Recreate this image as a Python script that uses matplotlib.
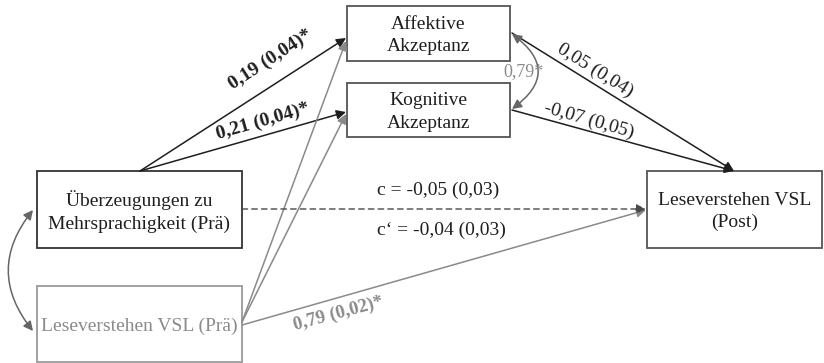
import matplotlib
matplotlib.use("Agg")
import matplotlib.pyplot as plt
from matplotlib.patches import Rectangle, FancyArrowPatch

# --- model content -------------------------------------------------------
node_labels = [
    "Überzeugungen zu\nMehrsprachigkeit (Prä)",
    "Leseverstehen VSL (Prä)",
    "Affektive\nAkzeptanz",
    "Kognitive\nAkzeptanz",
    "Leseverstehen VSL\n(Post)",
]

# a-paths: predictor -> mediators (affektiv, kognitiv)
a_coef = [0.19, 0.21]
a_se = [0.04, 0.04]
a_sig = [True, True]

# b-paths: mediators -> outcome
b_coef = [0.05, -0.07]
b_se = [0.04, 0.05]
b_sig = [False, False]

# total and direct effect
c_total = (-0.05, 0.03)
c_direct = (-0.04, 0.03)

# covariate (Leseverstehen Prä) -> outcome
cov_coef, cov_se, cov_sig = 0.79, 0.02, True

# residual correlation of the mediators
med_corr, med_corr_sig = 0.79, True


def fmt(v):
    return f"{v:.2f}".replace(".", ",")


def path_label(coef, se, sig):
    return f"{fmt(coef)} ({fmt(se)})" + ("*" if sig else "")


# --- layout --------------------------------------------------------------
W, H = 824, 363
boxes = {
    0: (37, 171, 242, 248),
    1: (37, 286, 242, 362),
    2: (347, 6, 510, 61),
    3: (347, 83, 510, 137),
    4: (647, 171, 822, 248),
}
DARK = "#1e1e1e"
GRAY = "#8a8a8a"
MID = "#4a4a4a"
CURVE = "#666666"
FONT = "Liberation Serif"

fig = plt.figure(figsize=(W / 100, H / 100), dpi=100)
ax = fig.add_axes([0, 0, 1, 1])
ax.set_xlim(0, W)
ax.set_ylim(H, 0)
ax.axis("off")

box_edge = {0: "#333333", 1: "#9a9a9a", 2: "#555555", 3: "#555555", 4: "#555555"}
text_col = {0: DARK, 1: GRAY, 2: DARK, 3: DARK, 4: DARK}
for i, (x0, y0, x1, y1) in boxes.items():
    ax.add_patch(Rectangle((x0, y0), x1 - x0, y1 - y0, fill=False,
                           edgecolor=box_edge[i], linewidth=1.3))
    ax.text((x0 + x1) / 2, (y0 + y1) / 2 + 2, node_labels[i], ha="center",
            va="center", fontsize=14, family=FONT, color=text_col[i],
            linespacing=1.4)


def arrow(p0, p1, color, ls="-", lw=1.1, rad=0.0, both=False):
    st = "<|-|>" if both else "-|>"
    a = FancyArrowPatch(p0, p1, arrowstyle=st, mutation_scale=14,
                        color=color, linewidth=lw, linestyle=ls,
                        shrinkA=0, shrinkB=0,
                        connectionstyle=f"arc3,rad={rad}")
    ax.add_patch(a)


# predictor -> mediators
arrow((140, 171), (346, 38), DARK)
arrow((140, 171), (346, 112), DARK)
# covariate -> mediators and outcome
arrow((242, 322), (346, 41), GRAY)
arrow((242, 322), (346, 114), GRAY)
arrow((242, 325), (646, 210), GRAY)
# mediators -> outcome (head at the outcome box)
arrow((512, 33), (734, 171), DARK)
arrow((512, 110), (734, 171), DARK)
# total effect (dashed)
arrow((242, 209), (646, 209), MID, ls=(0, (4, 3)), lw=1.0)
# mediator covariance
arrow((512, 34), (512, 109), CURVE, rad=-0.68, both=True)
# predictor / covariate covariance
arrow((33, 210), (33, 331), CURVE, rad=0.4, both=True)

# --- path labels --------------------------------------------------------
ax.text(271, 60, path_label(a_coef[0], a_se[0], a_sig[0]), rotation=33,
        ha="center", va="center", fontsize=14, family=FONT,
        weight="bold", color=DARK, rotation_mode="anchor")
ax.text(263, 121, path_label(a_coef[1], a_se[1], a_sig[1]), rotation=16,
        ha="center", va="center", fontsize=14, family=FONT,
        weight="bold", color=DARK, rotation_mode="anchor")
ax.text(595, 70, path_label(b_coef[0], b_se[0], b_sig[0]), rotation=-32,
        ha="center", va="center", fontsize=14, family=FONT, color=DARK,
        rotation_mode="anchor")
ax.text(589, 120, path_label(b_coef[1], b_se[1], b_sig[1]), rotation=-16,
        ha="center", va="center", fontsize=14, family=FONT, color=DARK,
        rotation_mode="anchor")
ax.text(377, 190, "c = " + f"{fmt(c_total[0])} ({fmt(c_total[1])})",
        ha="left", va="center", fontsize=14, family=FONT, color=DARK)
ax.text(377, 230, "c\u2018 = " + f"{fmt(c_direct[0])} ({fmt(c_direct[1])})",
        ha="left", va="center", fontsize=14, family=FONT, color=DARK)
ax.text(338, 314, path_label(cov_coef, cov_se, cov_sig), rotation=15,
        ha="center", va="center", fontsize=13.5, family=FONT,
        weight="bold", color=GRAY, rotation_mode="anchor")
ax.text(524, 72, fmt(med_corr) + ("*" if med_corr_sig else ""),
        ha="center", va="center", fontsize=13, family=FONT, color=GRAY)

fig.savefig("out.png", dpi=100)
